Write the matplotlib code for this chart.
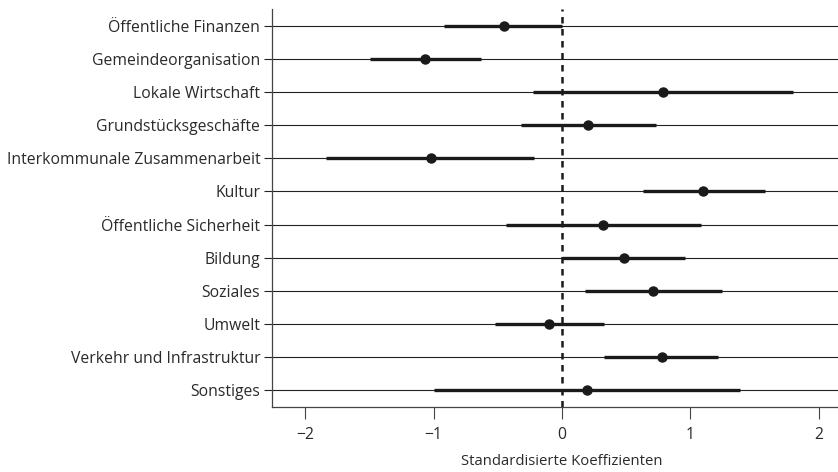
import matplotlib
matplotlib.use("Agg")
import matplotlib.pyplot as plt
import numpy as np

# Kategorien von oben nach unten
categories = [
    "Öffentliche Finanzen",
    "Gemeindeorganisation",
    "Lokale Wirtschaft",
    "Grundstücksgeschäfte",
    "Interkommunale Zusammenarbeit",
    "Kultur",
    "Öffentliche Sicherheit",
    "Bildung",
    "Soziales",
    "Umwelt",
    "Verkehr und Infrastruktur",
    "Sonstiges",
]
estimates = [-0.45, -1.065, 0.785, 0.20, -1.025, 1.10, 0.32, 0.48, 0.71, -0.10, 0.775, 0.195]
ci_low = [-0.92, -1.50, -0.23, -0.32, -1.84, 0.63, -0.44, 0.0, 0.177, -0.52, 0.327, -0.998]
ci_high = [0.0, -0.63, 1.80, 0.73, -0.215, 1.585, 1.085, 0.955, 1.25, 0.33, 1.215, 1.39]
x_ticks = [-2, -1, 0, 1, 2]
x_label = "Standardisierte Koeffizienten"

plt.rcParams["font.family"] = ["Open Sans", "DejaVu Sans"]

fig = plt.figure(figsize=(8.38, 4.72), dpi=100)
# rechter Rand liegt ausserhalb der Abbildung (wie im Original abgeschnitten)
ax = fig.add_axes([0.3246, 0.1377, 0.6922, 0.8433])

y = np.arange(len(categories))

# dünne Linien über die ganze Breite
for yi in y:
    ax.axhline(yi, color="#222222", lw=0.8, zorder=1)

ax.axvline(0, color="#1a1a1a", lw=1.8, ls=(0, (2.6, 2.2)), zorder=2)

ax.hlines(y, ci_low, ci_high, color="#1a1a1a", lw=2.4, zorder=3)
ax.plot(estimates, y, "o", color="#1a1a1a", ms=6.5, zorder=4)

ax.set_xlim(-2.26, 2.26)
ax.set_ylim(len(categories) - 0.5, -0.5)
ax.set_yticks(y)
ax.set_yticklabels(categories)
ax.set_xticks(x_ticks)
ax.set_xticklabels(["\u22122", "\u22121", "0", "1", "2"])
ax.set_xlabel(x_label, fontsize=10.7, color="#2a2a2a", labelpad=8)

for side in ["top", "right"]:
    ax.spines[side].set_visible(False)
for side in ["left", "bottom"]:
    ax.spines[side].set_color("#444444")
    ax.spines[side].set_linewidth(0.9)

ax.tick_params(axis="y", length=5.5, width=0.8, color="#222222", labelsize=11.3,
               labelcolor="#2a2a2a", pad=3)
ax.tick_params(axis="x", length=8.5, width=0.8, color="#444444", labelsize=11.3,
               labelcolor="#2a2a2a", pad=6)

fig.savefig("out.png", dpi=100)
